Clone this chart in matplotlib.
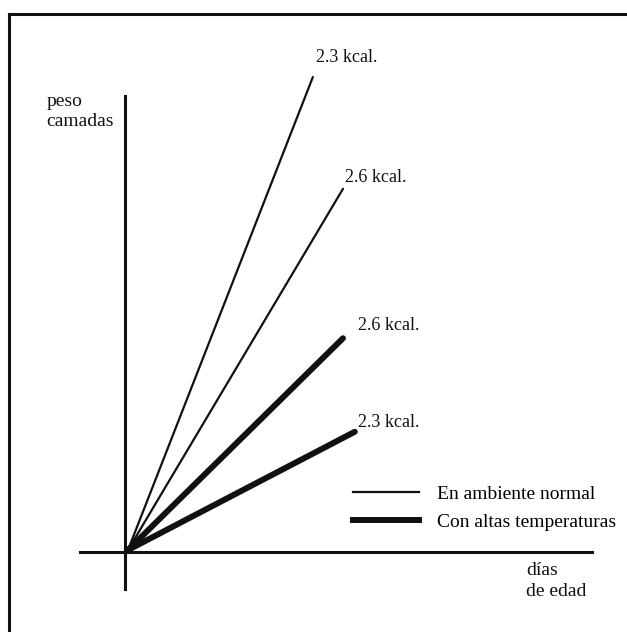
import matplotlib.pyplot as plt
from matplotlib.lines import Line2D

# -----------------------
# data (arbitrary units: dias de edad vs peso camadas)
# -----------------------
labels = ["2.3 kcal.", "2.6 kcal.", "2.6 kcal.", "2.3 kcal."]
dias_fin = [8.6, 10.0, 10.0, 10.55]
peso_fin = [22.0, 16.8, 9.85, 5.5]
grupo = ["normal", "normal", "calor", "calor"]
# label offsets from the end of each line (pixels)
offsets = [(3, 19), (2, 11), (15, 13), (3, 9)]

ancho = {"normal": 1.6, "calor": 4.3}
leyenda = {"normal": "En ambiente normal", "calor": "Con altas temperaturas"}

plt.rcParams["font.family"] = ["Liberation Serif", "DejaVu Serif"]

fig = plt.figure(figsize=(6.27, 6.32), dpi=100)
ax = fig.add_axes([0, 0, 1, 1])

px = 21.5  # pixels per data unit
ax.set_xlim(-128 / px, (627 - 128) / px)
ax.set_ylim(-82 / px, 550 / px)

for lab, x1, y1, g, off in zip(labels, dias_fin, peso_fin, grupo, offsets):
    ax.plot([0, x1], [0, y1], color="#111111", lw=ancho[g],
            solid_capstyle="round")
    ax.annotate(lab, xy=(x1, y1), xytext=off, textcoords="offset pixels",
                ha="left", va="center", fontsize=13, color="#111111")

# axes crossing at the origin
for s in ["top", "right"]:
    ax.spines[s].set_visible(False)
ax.spines["left"].set_position(("data", -0.14))
ax.spines["bottom"].set_position(("data", -0.1))
ax.spines["left"].set_bounds(-1.8, 21.1)
ax.spines["bottom"].set_bounds(-2.25, 21.6)
for s in ["left", "bottom"]:
    ax.spines[s].set_linewidth(2.2)
    ax.spines[s].set_color("#111111")
ax.set_xticks([])
ax.set_yticks([])

ax.text(-3.8, 20.4, "peso\ncamadas", ha="left", va="center",
        fontsize=14, linespacing=1.25, color="#111111")
ax.text(18.5, -1.45, "días\nde edad", ha="left", va="center",
        fontsize=14, linespacing=1.3, color="#111111")

handles = [Line2D([], [], color="#111111", lw=ancho[g]) for g in ["normal", "calor"]]
ax.legend(handles, [leyenda["normal"], leyenda["calor"]],
          loc="upper left", bbox_to_anchor=(353 / 627, 1 - 485 / 632),
          frameon=False, fontsize=14, handlelength=3.4, handletextpad=0.9,
          labelspacing=0.55, borderpad=0, borderaxespad=0)

# frame of the original figure (top and left edges)
fig.add_artist(Line2D([9 / 627, 1], [1 - 14 / 632, 1 - 14 / 632],
                      color="#111111", lw=2.2, transform=fig.transFigure))
fig.add_artist(Line2D([9 / 627, 9 / 627], [0, 1 - 14 / 632],
                      color="#111111", lw=2.2, transform=fig.transFigure))

fig.savefig("out.png", dpi=100)
plt.close(fig)
